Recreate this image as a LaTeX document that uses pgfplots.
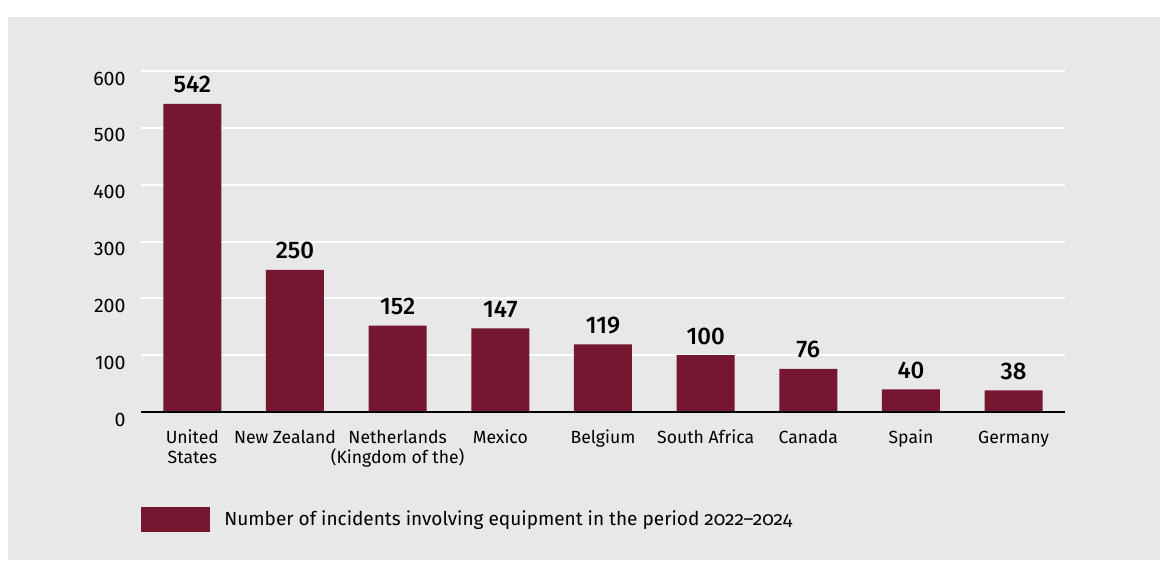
\documentclass[border=0pt]{standalone}
\usepackage{fontspec}
\setmainfont{Fira Sans}
\newfontfamily\medfont{Fira Sans}[UprightFont=* Medium]
\usepackage{pgfplots}
\pgfplotsset{compat=1.18}
\definecolor{barc}{HTML}{751730}
\definecolor{bg}{HTML}{E8E8E8}
\newcommand{\lstrut}{\rule{0pt}{8pt}}
\begin{document}
\begin{tikzpicture}
\fill[white] (-70.5pt,-75.5pt) rectangle (513pt,206pt);
\fill[bg] (-66.5pt,-74pt) rectangle (509.5pt,197.5pt);
\begin{axis}[
 at={(0,0)}, anchor=south west,
 scale only axis, width=462pt, height=170.5pt,
 xmin=-0.5, xmax=8.5, ymin=0, ymax=600,
 axis line style={draw=none},
 major tick length=0pt,
 ytick={0,100,...,600},
 ymajorgrids, grid style={white, line width=1pt},
 xtick=data,
 xticklabels={{\lstrut United\\States}, {\lstrut New Zealand\hspace*{10pt}}, {\lstrut Netherlands\\(Kingdom of the)}, {\lstrut Mexico}, {\lstrut Belgium}, {\lstrut South Africa}, {\lstrut Canada}, {\lstrut Spain}, {\lstrut Germany}},
 xticklabel style={align=center, anchor=north, inner sep=0pt, yshift=-7.5pt, font=\fontsize{8.8}{10}\selectfont},
 yticklabel style={anchor=east, inner sep=0pt, xshift=-7.5pt, yshift=-3.75pt, font=\fontsize{9.8}{10}\selectfont},
 /pgf/number format/assume math mode=true,
 ybar, bar width=29pt,
 nodes near coords,
 every node near coord/.append style={anchor=base, yshift=5.5pt, font=\medfont\fontsize{12}{12}\selectfont, text=black},
 legend style={at={(axis description cs:0,-0.3152)}, anchor=west, draw=none, fill=none, inner sep=0pt, font=\fontsize{9.5}{10}\selectfont, legend cell align=left, /tikz/every odd column/.append style={column sep=5pt}},
 legend image code/.code={\fill[barc] (0pt,-6.25pt) rectangle (34.5pt,6.25pt);},
]
\addplot[fill=barc, draw=none] coordinates {(0,542) (1,250) (2,152) (3,147) (4,119) (5,100) (6,76) (7,40) (8,38)};
\addlegendentry{Number of incidents involving equipment in the period {\addfontfeatures{Numbers=OldStyle}2022–2024}}
\draw[black, line width=1pt] (axis cs:-0.5,0) -- (axis cs:8.5,0);
\end{axis}
\end{tikzpicture}
\end{document}
